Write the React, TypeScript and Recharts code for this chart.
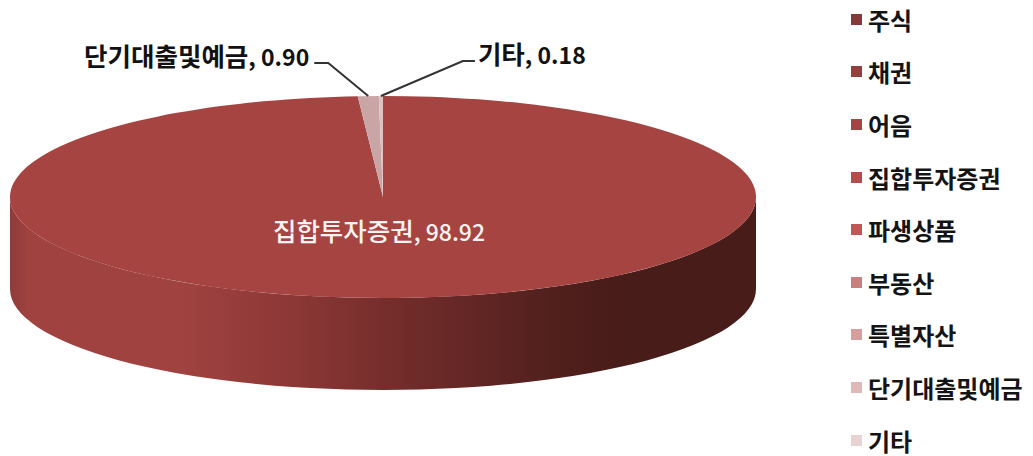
import React from "react";
import { PieChart, Pie, Legend } from "recharts";

const categories = ["주식", "채권", "어음", "집합투자증권", "파생상품", "부동산", "특별자산", "단기대출및예금", "기타"];
const values = [0, 0, 0, 98.92, 0, 0, 0, 0.9, 0.18];
const valueLabels = ["0.00", "0.00", "0.00", "98.92", "0.00", "0.00", "0.00", "0.90", "0.18"];
const legendColors = ["#853a39", "#943f3d", "#a44543", "#b24d4b", "#c05755", "#c97f7e", "#d69f9e", "#e0b8b7", "#e8d2d2"];
const sliceColors = ["#853a39", "#943f3d", "#a44543", "#a54441", "#c05755", "#c97f7e", "#d69f9e", "#c9a6a5", "#dcc3c2"];

const data = categories.map((name, i) => ({
  name,
  value: values[i],
  fill: legendColors[i],
  topFill: sliceColors[i],
  valueLabel: valueLabels[i],
}));

const SQUASH = 101 / 373;
const DEPTH = 92;
const RAD = Math.PI / 180;
const FONT = "'Noto Sans CJK KR', sans-serif";

const pt = (cx: number, cy: number, r: number, deg: number) => ({
  x: cx + r * Math.cos(deg * RAD),
  y: cy - r * SQUASH * Math.sin(deg * RAD),
});

function SliceShape(props: any) {
  const { cx, cy, outerRadius: r, startAngle, endAngle, payload } = props;
  const hi = Math.max(startAngle, endAngle);
  const lo = Math.min(startAngle, endAngle);
  const a = pt(cx, cy, r, startAngle);
  const b = pt(cx, cy, r, endAngle);
  const large = hi - lo > 180 ? 1 : 0;
  const sweep = startAngle > endAngle ? 1 : 0;
  const ry = r * SQUASH;
  const top = `M${cx},${cy} L${a.x},${a.y} A${r},${ry} 0 ${large} ${sweep} ${b.x},${b.y} Z`;
  const hasWall = hi - lo > 180;
  const l = pt(cx, cy, r, 180);
  const rt = pt(cx, cy, r, 0);
  const wall = `M${l.x},${l.y} A${r},${ry} 0 0 0 ${rt.x},${rt.y} L${rt.x},${rt.y + DEPTH} A${r},${ry} 0 0 1 ${l.x},${l.y + DEPTH} Z`;
  return (
    <g>
      {hasWall && <path d={wall} fill="url(#wallShade)" />}
      <path d={top} fill={payload.topFill ?? props.topFill} />
    </g>
  );
}

function SliceLabel(props: any) {
  const { cx, cy, outerRadius: r, midAngle, name, valueLabel, value } = props;
  if (!value) return null;
  if (value > 50) {
    return (
      <text x={cx - 4} y={cy + 44} textAnchor="middle" fill="#fdf3f2" fontFamily={FONT} fontWeight={500}>
        <tspan fontSize={25.5}>{name}</tspan>
        <tspan fontSize={23}>, {valueLabel}</tspan>
      </text>
    );
  }
  const edge = pt(cx, cy, r, midAngle);
  const isLeft = value > 0.5;
  const elbow = isLeft ? { x: edge.x - 40, y: edge.y - 33 } : { x: edge.x + 82, y: edge.y - 35 };
  const end = isLeft ? { x: elbow.x - 14, y: elbow.y } : { x: elbow.x + 12, y: elbow.y };
  return (
    <g>
      <polyline
        points={`${edge.x},${edge.y} ${elbow.x},${elbow.y} ${end.x},${end.y}`}
        fill="none"
        stroke="#333333"
        strokeWidth={2}
      />
      <text
        x={isLeft ? end.x - 5 : end.x + 3}
        y={elbow.y + 3}
        textAnchor={isLeft ? "end" : "start"}
        fill="#111111"
        fontFamily={FONT}
        fontWeight={700}
      >
        <tspan fontSize={25.5}>{name}</tspan>
        <tspan fontSize={23}>, {valueLabel}</tspan>
      </text>
    </g>
  );
}

function LegendList({ payload }: any) {
  return (
    <div style={{ fontFamily: FONT, fontSize: 24, fontWeight: 700, color: "#141414" }}>
      {(payload ?? []).map((p: any) => (
        <div key={p.value} style={{ display: "flex", alignItems: "center", height: 52.6, whiteSpace: "nowrap" }}>
          <span style={{ width: 11, height: 11, background: p.payload?.fill ?? p.color, marginRight: 6, flex: "none" }} />
          {p.value}
        </div>
      ))}
    </div>
  );
}

export default function App() {
  return (
    <div style={{ position: "absolute", left: 0, top: 0, width: 1033, height: 456, background: "#fff" }}>
      <PieChart width={1033} height={456} margin={{ top: 0, right: 0, bottom: 0, left: 0 }}>
        <defs>
          <linearGradient id="wallShade" x1="10" x2="756" y1="0" y2="0" gradientUnits="userSpaceOnUse">
            <stop offset="0" stopColor="#8d3d3a" />
            <stop offset="0.025" stopColor="#a04240" />
            <stop offset="0.23" stopColor="#a04240" />
            <stop offset="0.39" stopColor="#8a3735" />
            <stop offset="0.5" stopColor="#762e2c" />
            <stop offset="0.74" stopColor="#4f1f1c" />
            <stop offset="0.82" stopColor="#481c19" />
            <stop offset="1" stopColor="#481c19" />
          </linearGradient>
        </defs>
        <Pie
          data={data}
          dataKey="value"
          nameKey="name"
          cx={383}
          cy={197}
          innerRadius={0}
          outerRadius={373}
          startAngle={90}
          endAngle={-270}
          stroke="none"
          isAnimationActive={false}
          shape={SliceShape}
          label={SliceLabel}
          labelLine={false}
        />
        <Legend
          layout="vertical"
          align="right"
          verticalAlign="top"
          itemSorter={null}
          content={LegendList as any}
          wrapperStyle={{ left: 851, top: -7, width: 182 }}
        />
      </PieChart>
    </div>
  );
}
